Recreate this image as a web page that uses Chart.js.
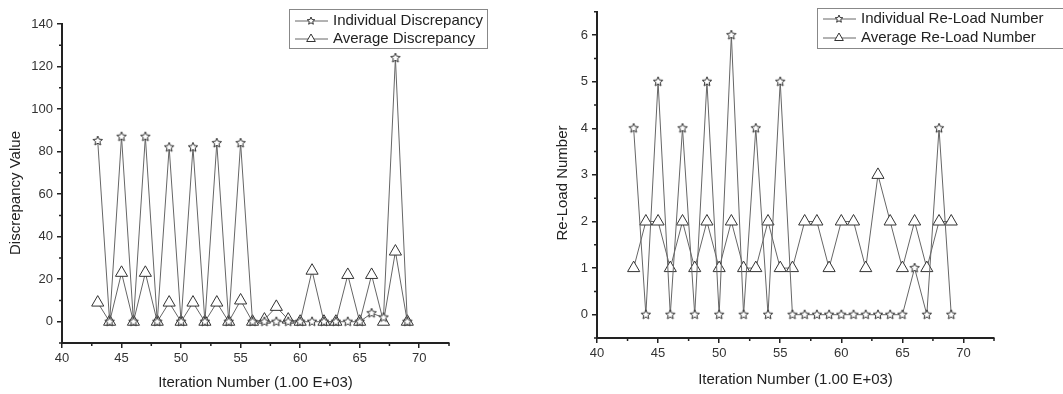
<!DOCTYPE html>
<html>
<head>
<meta charset="utf-8">
<script src="https://cdn.jsdelivr.net/npm/chart.js@4.4.0/dist/chart.umd.min.js"></script>
<style>
  html, body { margin: 0; padding: 0; background: #fff; }
  #wrap { position: relative; width: 1063px; height: 394px; overflow: hidden; }
  #left { position: absolute; left: 0; top: 0; }
  #right { position: absolute; left: 530px; top: 0; }
</style>
</head>
<body>
<div id="wrap">
  <canvas id="left" width="530" height="394"></canvas>
  <canvas id="right" width="533" height="394"></canvas>
</div>
<script>
const iterations = [43, 44, 45, 46, 47, 48, 49, 50, 51, 52, 53, 54, 55, 56,
                    57, 58, 59, 60, 61, 62, 63, 64, 65, 66, 67, 68, 69];

const individualDiscrepancy = [85, 0, 87, 0, 87, 0, 82, 0, 82, 0, 84, 0, 84, 0,
                               0, 0, 0, 0, 0, 0, 0, 0, 0, 4, 2, 124, 0];
const averageDiscrepancy = [9, 0, 23, 0, 23, 0, 9, 0, 9, 0, 9, 0, 10, 0,
                            1, 7, 1, 0, 24, 0, 0, 22, 0, 22, 0, 33, 0];

const individualReload = [4, 0, 5, 0, 4, 0, 5, 0, 6, 0, 4, 0, 5, 0,
                          0, 0, 0, 0, 0, 0, 0, 0, 0, 1, 0, 4, 0];
const averageReload = [1, 2, 2, 1, 2, 1, 2, 1, 2, 1, 1, 2, 1, 1,
                       2, 2, 1, 2, 2, 1, 3, 2, 1, 2, 1, 2, 2];

const xTicks = [40, 45, 50, 55, 60, 65, 70];
const xMinor = [42.5, 47.5, 52.5, 57.5, 62.5, 67.5, 72.5];
const discTicks = [0, 20, 40, 60, 80, 100, 120, 140];
const discMinor = [-10, 10, 30, 50, 70, 90, 110, 130];
const reloadTicks = [0, 1, 2, 3, 4, 5, 6];
const reloadMinor = [-0.5, 0.5, 1.5, 2.5, 3.5, 4.5, 5.5, 6.5];

const FONT = '"Liberation Sans", Arial, sans-serif';
const LINE = "#666";
const EDGE = "#333";
const AXIS = "#222";

function starMarker(size) {
  const c = document.createElement("canvas");
  c.width = c.height = size;
  const g = c.getContext("2d");
  const m = size / 2, ro = size / 2 - 1, ri = ro * 0.45;
  g.beginPath();
  for (let i = 0; i < 10; i++) {
    const r = i % 2 ? ri : ro;
    const a = -Math.PI / 2 + i * Math.PI / 5;
    g.lineTo(m + r * Math.cos(a), m + r * Math.sin(a));
  }
  g.closePath();
  g.fillStyle = "#fff";
  g.fill();
  g.strokeStyle = EDGE;
  g.lineWidth = 1;
  g.stroke();
  return c;
}
const star = starMarker(12);
const smallStar = starMarker(10);

function pts(ys) {
  return iterations.map((x, i) => ({ x: x, y: ys[i] }));
}

// minor ticks (Chart.js has none)
const minorTicks = {
  id: "minorTicks",
  afterDraw(chart, args, o) {
    const ctx = chart.ctx, xs = chart.scales.x, ys = chart.scales.y;
    ctx.save();
    ctx.strokeStyle = AXIS;
    ctx.lineWidth = 1.5;
    ctx.beginPath();
    o.x.forEach(v => {
      const p = xs.getPixelForValue(v);
      ctx.moveTo(p, xs.top);
      ctx.lineTo(p, xs.top + 3);
    });
    o.y.forEach(v => {
      const p = ys.getPixelForValue(v);
      ctx.moveTo(ys.right, p);
      ctx.lineTo(ys.right - 3, p);
    });
    ctx.stroke();
    ctx.restore();
  }
};

// y title drawn by hand so it can sit a little below the axis centre, like the original
const yTitle = {
  id: "yTitle",
  afterDraw(chart, args, o) {
    const ctx = chart.ctx;
    ctx.save();
    ctx.translate(o.x, o.y);
    ctx.rotate(-Math.PI / 2);
    ctx.font = "15px " + FONT;
    ctx.fillStyle = AXIS;
    ctx.textAlign = "center";
    ctx.textBaseline = "middle";
    ctx.fillText(o.text, 0, 0);
    ctx.restore();
  }
};

// boxed legend with line + marker samples
const boxLegend = {
  id: "boxLegend",
  afterDraw(chart, args, o) {
    const ctx = chart.ctx;
    ctx.save();
    ctx.strokeStyle = "#888";
    ctx.lineWidth = 1;
    ctx.strokeRect(o.left + 0.5, o.top + 0.5, o.width, o.height);
    ctx.font = "15px " + FONT;
    ctx.textBaseline = "middle";
    chart.data.datasets.forEach((ds, i) => {
      const y = o.top + o.rowTop + i * o.rowGap;
      ctx.strokeStyle = LINE;
      ctx.beginPath();
      ctx.moveTo(o.left + 6, y);
      ctx.lineTo(o.left + 39, y);
      ctx.stroke();
      ctx.fillStyle = "#fff";
      ctx.strokeStyle = EDGE;
      const ps = ds.pointStyle === star ? smallStar : ds.pointStyle;
      Chart.helpers.drawPoint(ctx, { pointStyle: ps, radius: 5, borderWidth: 1, rotation: 0 }, o.left + 22, y);
      ctx.fillStyle = AXIS;
      ctx.fillText(ds.label, o.left + 44, y);
    });
    ctx.restore();
  }
};

function makeChart(id, cfg) {
  return new Chart(document.getElementById(id), {
    type: "line",
    data: {
      datasets: [
        {
          label: cfg.labels[0],
          data: pts(cfg.series[0]),
          borderColor: LINE,
          borderWidth: 1,
          pointStyle: star,
          pointBackgroundColor: "#fff",
          pointBorderColor: EDGE,
          tension: 0,
        },
        {
          label: cfg.labels[1],
          data: pts(cfg.series[1]),
          borderColor: LINE,
          borderWidth: 1,
          pointStyle: "triangle",
          pointRadius: 7,
          pointBackgroundColor: "#fff",
          pointBorderColor: EDGE,
          pointBorderWidth: 1,
          tension: 0,
        },
      ],
    },
    options: {
      responsive: false,
      animation: false,
      layout: { padding: cfg.padding },
      plugins: {
        legend: { display: false },
        tooltip: { enabled: false },
        minorTicks: { x: xMinor, y: cfg.yMinor },
        boxLegend: cfg.legend,
        yTitle: cfg.yTitle,
      },
      scales: {
        x: {
          type: "linear",
          min: 40,
          max: 72.5,
          afterBuildTicks: s => { s.ticks = xTicks.map(v => ({ value: v })); },
          afterFit: s => { s.height = cfg.xHeight; },
          border: { color: AXIS, width: 2 },
          grid: { drawOnChartArea: false, drawTicks: true, tickLength: 5, color: AXIS, lineWidth: 1.5 },
          ticks: { color: "#333", padding: 3, maxRotation: 0, font: { family: FONT, size: 13 } },
          title: {
            display: true,
            text: "Iteration Number (1.00 E+03)",
            color: AXIS,
            font: { family: FONT, size: 15 },
            padding: { top: 0, bottom: cfg.xTitlePad },
          },
        },
        y: {
          min: cfg.yMin,
          max: cfg.yMax,
          afterBuildTicks: s => { s.ticks = cfg.yTicks.map(v => ({ value: v })); },
          afterFit: s => { s.width = cfg.yWidth; },
          border: { color: AXIS, width: 2 },
          grid: { drawOnChartArea: false, drawTicks: true, tickLength: 5, color: AXIS, lineWidth: 1.5 },
          ticks: { color: "#333", padding: 4, font: { family: FONT, size: 13 } },
        },
      },
    },
    plugins: [minorTicks, boxLegend, yTitle],
  });
}

makeChart("left", {
  labels: ["Individual Discrepancy", "Average Discrepancy"],
  series: [individualDiscrepancy, averageDiscrepancy],
  yTitle: { text: "Discrepancy Value", x: 16, y: 193 },
  yMin: -10,
  yMax: 140,
  yTicks: discTicks,
  yMinor: discMinor,
  padding: { left: 0, right: 81, top: 24, bottom: 0 },
  yWidth: 62,
  xHeight: 51,
  xTitlePad: 2,
  legend: { left: 289, top: 9, width: 198, height: 39, rowTop: 12, rowGap: 18 },
});

makeChart("right", {
  labels: ["Individual Re-Load Number", "Average Re-Load Number"],
  series: [individualReload, averageReload],
  yTitle: { text: "Re-Load Number", x: 33, y: 183 },
  yMin: -0.5,
  yMax: 6.5,
  yTicks: reloadTicks,
  yMinor: reloadMinor,
  padding: { left: 0, right: 69, top: 8, bottom: 0 },
  yWidth: 67,
  xHeight: 56,
  xTitlePad: 5,
  legend: { left: 287, top: 8, width: 260, height: 40, rowTop: 11, rowGap: 19 },
});
</script>
</body>
</html>
